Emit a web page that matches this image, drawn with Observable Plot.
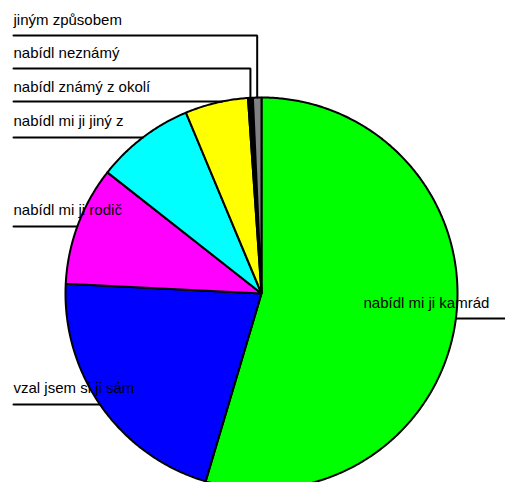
<!DOCTYPE html>
<html>
<head>
<meta charset="utf-8">
<script src="https://cdn.jsdelivr.net/npm/d3@7"></script>
<script src="https://cdn.jsdelivr.net/npm/@observablehq/plot@0.6"></script>
<style>
  html, body { margin: 0; padding: 0; background: #fff; }
</style>
</head>
<body>
<div id="chart"></div>
<script>
// ---- data ----
const categories = [
  "nabídl mi ji kamrád",
  "vzal jsem si ji sám",
  "nabídl mi ji rodič",
  "nabídl mi ji jiný z",
  "nabídl známý z okolí",
  "nabídl neznámý",
  "jiným způsobem"
];
const shares = [54.6, 21.2, 9.8, 8.1, 5.2, 0.4, 0.7];

// ---- styling / layout ----
const palette = ["#00ff00", "#0000ff", "#ff00ff", "#00ffff", "#ffff00", "#000000", "#808080"];
const W = 505, H = 482;
const cx = 261, cy = 293, R = 196;
// label layout: text y (middle), underline y, side
const labelLayout = {
  "jiným způsobem":       {ty: 20,  ly: 35,  kind: "top"},
  "nabídl neznámý":       {ty: 53,  ly: 68,  kind: "top"},
  "nabídl známý z okolí": {ty: 87,  ly: 101, kind: "left"},
  "nabídl mi ji jiný z":  {ty: 121, ly: 137, kind: "left"},
  "nabídl mi ji rodič":   {ty: 210, ly: 226, kind: "left"},
  "vzal jsem si ji sám":  {ty: 388, ly: 404, kind: "left"},
  "nabídl mi ji kamrád":  {ty: 303, ly: 318, kind: "right"}
};
const textX = 13, rightTextX = 363;

// ---- geometry from data ----
const arcs = d3.pie().sort(null).value(d => d.v)(categories.map((c, i) => ({c, v: shares[i]})));
const pt = a => [cx + R * Math.sin(a), cy - R * Math.cos(a)];
const slicePoints = [];
for (const a of arcs) {
  const cat = a.data.c;
  slicePoints.push({cat, x: cx, y: cy});
  const n = Math.max(2, Math.ceil((a.endAngle - a.startAngle) / (Math.PI / 360)));
  for (let k = 0; k <= n; k++) {
    const ang = a.startAngle + (a.endAngle - a.startAngle) * k / n;
    const [x, y] = pt(ang);
    slicePoints.push({cat, x, y});
  }
}

const leaderPoints = [];
const labels = [];
for (const a of arcs) {
  const cat = a.data.c;
  const L = labelLayout[cat];
  if (L.kind === "top") {
    const [mx, my] = pt((a.startAngle + a.endAngle) / 2);
    leaderPoints.push({cat, x: textX, y: L.ly}, {cat, x: mx, y: L.ly}, {cat, x: mx, y: my});
    labels.push({cat, x: textX, y: L.ty});
  } else if (L.kind === "left") {
    const ex = cx - Math.sqrt(R * R - (L.ly - cy) ** 2);
    leaderPoints.push({cat, x: textX, y: L.ly}, {cat, x: ex, y: L.ly});
    labels.push({cat, x: textX, y: L.ty});
  } else {
    const ex = cx + Math.sqrt(R * R - (L.ly - cy) ** 2);
    leaderPoints.push({cat, x: ex, y: L.ly}, {cat, x: W, y: L.ly});
    labels.push({cat, x: rightTextX, y: L.ty});
  }
}

const chart = Plot.plot({
  width: W,
  height: H,
  margin: 0,
  style: {fontFamily: "'Liberation Sans', Arial, sans-serif", background: "#fff"},
  x: {domain: [0, W], range: [0, W], axis: null},
  y: {domain: [0, H], range: [0, H], axis: null},
  color: {domain: categories, range: palette},
  marks: [
    Plot.line(slicePoints, {x: "x", y: "y", z: "cat", fill: "cat", stroke: "black", strokeWidth: 2, curve: "linear-closed", strokeLinejoin: "miter"}),
    Plot.line(leaderPoints, {x: "x", y: "y", z: "cat", stroke: "black", strokeWidth: 2, strokeLinejoin: "miter"}),
    Plot.text(labels, {x: "x", y: "y", text: "cat", textAnchor: "start", lineAnchor: "middle", fontSize: 15, fill: "black"})
  ]
});
document.getElementById("chart").appendChild(chart);
</script>
</body>
</html>
